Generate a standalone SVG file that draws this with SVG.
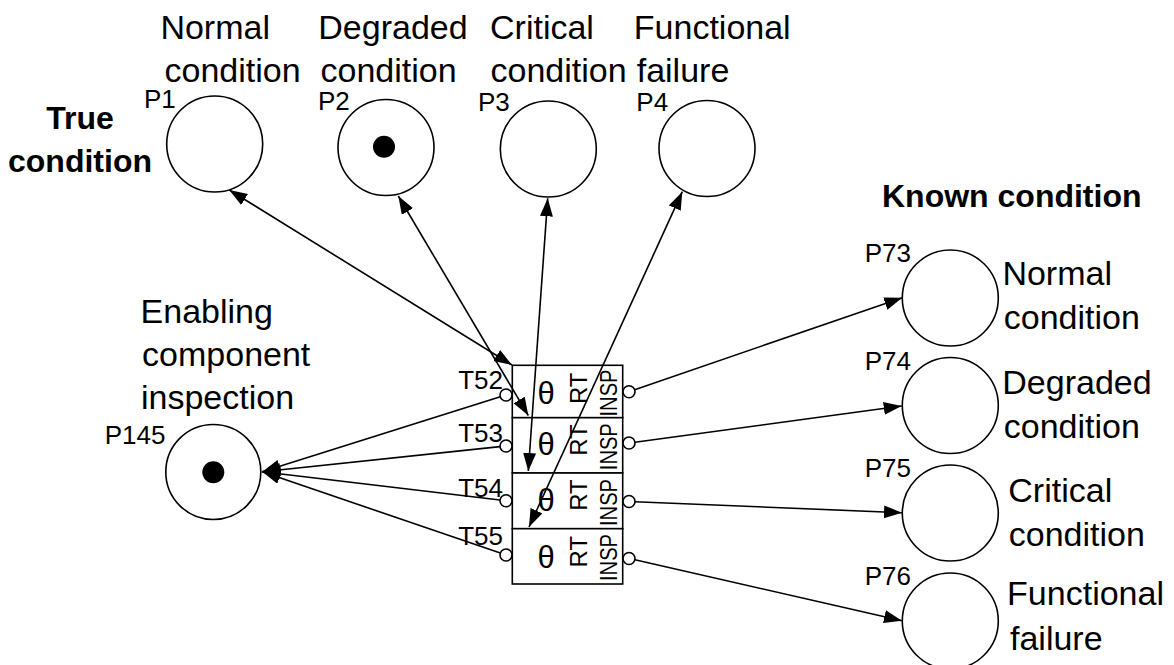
<svg xmlns="http://www.w3.org/2000/svg" width="1174" height="665" viewBox="0 0 1174 665">
  <style>
    text { font-family: "Liberation Sans", Arial, sans-serif; fill: #000; }
    .cap { font-size: 34px; }
    .head { font-size: 32px; font-weight: bold; }
    .id { font-size: 26px; }
    .theta { font-size: 31px; text-anchor: middle; }
    .vert { font-size: 24px; text-anchor: middle; }
    .place { fill: #fff; stroke: #000; stroke-width: 1.6; }
    .token { fill: #000; }
    .trans { fill: #fff; stroke: #000; stroke-width: 1.6; }
    .port { fill: #fff; stroke: #000; stroke-width: 1.6; }
    .arc { stroke: #000; stroke-width: 1.6; fill: none; marker-end: url(#head); }
    .both { marker-start: url(#head); }
  </style>
  <defs>
    <marker id="head" markerUnits="userSpaceOnUse" markerWidth="19" markerHeight="14" refX="18" refY="6.5" orient="auto-start-reverse">
      <path d="M0,0 L18,6.5 L0,13 z" fill="#000"/>
    </marker>
  </defs>

  <rect width="1174" height="665" fill="#fff"/>

  <!-- section headings -->
  <text class="head" x="80" y="129" text-anchor="middle">True</text>
  <text class="head" x="80" y="171.7" text-anchor="middle">condition</text>
  <text class="head" x="882" y="206.7">Known condition</text>

  <!-- true condition places -->
  <g id="P1">
    <circle class="place" cx="214.7" cy="144" r="48"/>
    <text class="id" x="144" y="108.3">P1</text>
    <text class="cap" x="160.4" y="38.5">Normal</text>
    <text class="cap" x="164.5" y="82">condition</text>
  </g>
  <g id="P2">
    <circle class="place" cx="386" cy="147.5" r="48"/>
    <circle class="token" cx="384" cy="146.7" r="11"/>
    <text class="id" x="318" y="110">P2</text>
    <text class="cap" x="318.3" y="38.5">Degraded</text>
    <text class="cap" x="320.5" y="82">condition</text>
  </g>
  <g id="P3">
    <circle class="place" cx="548.3" cy="149" r="48"/>
    <text class="id" x="478" y="111">P3</text>
    <text class="cap" x="490" y="38.5">Critical</text>
    <text class="cap" x="490.5" y="82">condition</text>
  </g>
  <g id="P4">
    <circle class="place" cx="707" cy="148.5" r="48"/>
    <text class="id" x="636.3" y="111">P4</text>
    <text class="cap" x="633.8" y="38.5">Functional</text>
    <text class="cap" x="636.7" y="82">failure</text>
  </g>

  <!-- enabling place -->
  <g id="P145">
    <circle class="place" cx="213.3" cy="472" r="47.5"/>
    <circle class="token" cx="213.3" cy="472.3" r="11"/>
    <text class="id" x="104.7" y="444">P145</text>
    <text class="cap" x="140.6" y="322.7">Enabling</text>
    <text class="cap" x="142.1" y="366">component</text>
    <text class="cap" x="141" y="409.3">inspection</text>
  </g>

  <!-- inspection transitions -->
  <g id="T52">
    <rect class="trans" x="512.3" y="365.3" width="110.4" height="52.4"/>
    <circle class="port" cx="506" cy="395" r="6"/>
    <circle class="port" cx="629" cy="391.7" r="6"/>
    <text class="id" x="503" y="389.3" text-anchor="end">T52</text>
    <text class="theta" x="546" y="404">θ</text>
    <text class="vert" transform="translate(587 388.3) rotate(-90)">RT</text>
    <text class="vert" transform="translate(617 393) rotate(-90)" textLength="47" lengthAdjust="spacingAndGlyphs">INSP</text>
  </g>
  <g id="T53">
    <rect class="trans" x="512.3" y="417.7" width="110.4" height="55.3"/>
    <circle class="port" cx="506" cy="446" r="6"/>
    <circle class="port" cx="629" cy="443" r="6"/>
    <text class="id" x="503" y="441.5" text-anchor="end">T53</text>
    <text class="theta" x="546" y="455">θ</text>
    <text class="vert" transform="translate(587 440) rotate(-90)">RT</text>
    <text class="vert" transform="translate(617 446.7) rotate(-90)" textLength="47" lengthAdjust="spacingAndGlyphs">INSP</text>
  </g>
  <g id="T54">
    <rect class="trans" x="512.3" y="473" width="110.4" height="55.7"/>
    <circle class="port" cx="506" cy="500.7" r="6"/>
    <circle class="port" cx="629" cy="501.5" r="6"/>
    <text class="id" x="503" y="496.7" text-anchor="end">T54</text>
    <text class="theta" x="546" y="511">θ</text>
    <text class="vert" transform="translate(587 495) rotate(-90)">RT</text>
    <text class="vert" transform="translate(617 502.5) rotate(-90)" textLength="47" lengthAdjust="spacingAndGlyphs">INSP</text>
  </g>
  <g id="T55">
    <rect class="trans" x="512.3" y="528.7" width="110.4" height="55.3"/>
    <circle class="port" cx="506" cy="555" r="6"/>
    <circle class="port" cx="629" cy="558.5" r="6"/>
    <text class="id" x="503" y="544.5" text-anchor="end">T55</text>
    <text class="theta" x="546" y="567.5">θ</text>
    <text class="vert" transform="translate(587 551.7) rotate(-90)">RT</text>
    <text class="vert" transform="translate(617 557.5) rotate(-90)" textLength="47" lengthAdjust="spacingAndGlyphs">INSP</text>
  </g>

  <!-- known condition places -->
  <g id="P73">
    <circle class="place" cx="950.3" cy="298" r="48"/>
    <text class="id" x="864.7" y="261.7">P73</text>
    <text class="cap" x="1002.4" y="285">Normal</text>
    <text class="cap" x="1003.8" y="329.3">condition</text>
  </g>
  <g id="P74">
    <circle class="place" cx="950.3" cy="405.5" r="48"/>
    <text class="id" x="864.7" y="370">P74</text>
    <text class="cap" x="1002.3" y="394">Degraded</text>
    <text class="cap" x="1003.8" y="438.3">condition</text>
  </g>
  <g id="P75">
    <circle class="place" cx="950.3" cy="513" r="48"/>
    <text class="id" x="864.7" y="476.7">P75</text>
    <text class="cap" x="1008.3" y="501.7">Critical</text>
    <text class="cap" x="1008.8" y="546">condition</text>
  </g>
  <g id="P76">
    <circle class="place" cx="950.3" cy="621" r="48"/>
    <text class="id" x="864.7" y="585">P76</text>
    <text class="cap" x="1007.1" y="605">Functional</text>
    <text class="cap" x="1010" y="650">failure</text>
  </g>

  <!-- connectors, drawn over the transition boxes -->
  <g id="connectors">
    <!-- true condition places to transitions (two-way) -->
    <line class="arc both" x1="229.3" y1="190" x2="512" y2="365"/>
    <line class="arc both" x1="398.3" y1="196" x2="528.3" y2="415.5"/>
    <line class="arc both" x1="547.7" y1="198.3" x2="528.3" y2="471"/>
    <line class="arc both" x1="682.3" y1="191.7" x2="529" y2="527"/>
    <!-- transitions to enabling place -->
    <line class="arc" x1="500.3" y1="396.8" x2="262.3" y2="471.7"/>
    <line class="arc" x1="500" y1="446.6" x2="262.3" y2="471.7"/>
    <line class="arc" x1="500" y1="500" x2="262.3" y2="471.7"/>
    <line class="arc" x1="500.3" y1="553.1" x2="262.3" y2="471.7"/>
    <!-- transitions to known condition places -->
    <line class="arc" x1="634.7" y1="389.7" x2="902.3" y2="297.7"/>
    <line class="arc" x1="634.9" y1="442.2" x2="901.7" y2="406"/>
    <line class="arc" x1="635" y1="501.7" x2="902" y2="512.7"/>
    <line class="arc" x1="634.9" y1="559.8" x2="902" y2="620.7"/>
  </g>
</svg>
